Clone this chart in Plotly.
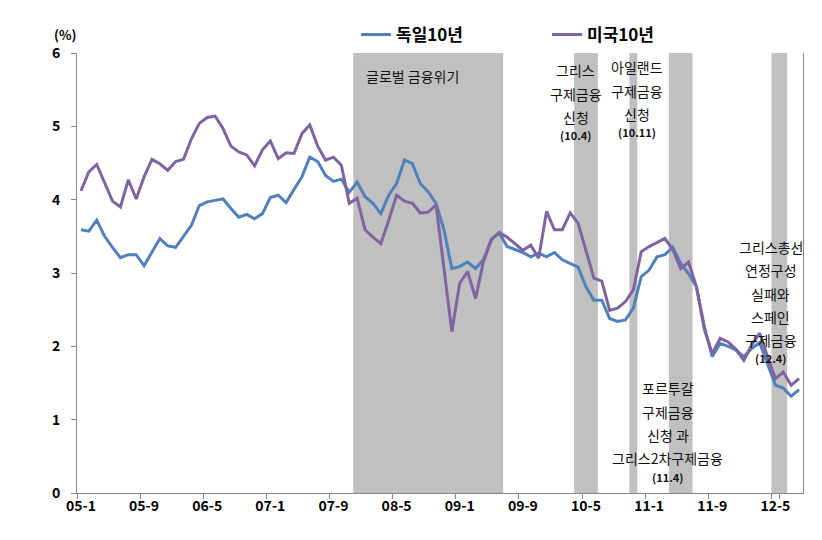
import plotly.graph_objects as go

# ---------------- data ----------------
months = [f"{y:02d}-{m}" for y in range(5, 13) for m in range(1, 13)][:92]  # 05-1 .. 12-8

germany_10y = [3.59, 3.57, 3.72, 3.50, 3.35, 3.21, 3.25, 3.25, 3.10, 3.29,
               3.47, 3.37, 3.35, 3.50, 3.65, 3.92, 3.97, 3.99, 4.01, 3.88,
               3.76, 3.80, 3.74, 3.81, 4.03, 4.06, 3.96, 4.14, 4.31, 4.58,
               4.52, 4.33, 4.25, 4.28, 4.10, 4.24, 4.04, 3.95, 3.81, 4.06,
               4.22, 4.54, 4.49, 4.22, 4.11, 3.95, 3.59, 3.06, 3.09, 3.15,
               3.06, 3.18, 3.45, 3.55, 3.36, 3.32, 3.28, 3.22, 3.27, 3.22,
               3.28, 3.18, 3.13, 3.08, 2.81, 2.63, 2.63, 2.38, 2.34, 2.36,
               2.52, 2.95, 3.04, 3.22, 3.25, 3.35, 3.13, 2.99, 2.81, 2.27,
               1.86, 2.04, 2.00, 1.95, 1.86, 1.97, 2.05, 1.77, 1.47, 1.43,
               1.32, 1.41]

us_10y = [4.12, 4.38, 4.48, 4.22, 3.98, 3.90, 4.27, 4.01, 4.31, 4.55,
          4.49, 4.40, 4.52, 4.55, 4.83, 5.04, 5.12, 5.14, 4.97, 4.73,
          4.65, 4.61, 4.46, 4.68, 4.80, 4.56, 4.64, 4.63, 4.90, 5.02,
          4.73, 4.54, 4.58, 4.47, 3.95, 4.02, 3.59, 3.49, 3.40, 3.72,
          4.06, 3.98, 3.95, 3.82, 3.83, 3.93, 3.07, 2.20, 2.86, 3.02,
          2.65, 3.15, 3.46, 3.55, 3.49, 3.40, 3.31, 3.38, 3.20, 3.84,
          3.59, 3.59, 3.82, 3.68, 3.31, 2.93, 2.89, 2.49, 2.52, 2.61,
          2.77, 3.29, 3.36, 3.41, 3.47, 3.32, 3.06, 3.15, 2.81, 2.23,
          1.90, 2.11, 2.06, 1.96, 1.81, 2.02, 2.18, 1.86, 1.56, 1.65,
          1.47, 1.56]

tick_labels = ["05-1", "05-9", "06-5", "07-1", "07-9", "08-5", "09-1",
               "09-9", "10-5", "11-1", "11-9", "12-5"]

# shaded event periods (first month, last month)
event_periods = [("07-12", "09-6"), ("10-4", "10-6"), ("10-11", "10-11"),
                 ("11-4", "11-6"), ("12-5", "12-6")]

series_names = ["독일10년", "미국10년"]

# ---------------- figure ----------------
BLUE = "#4F81BD"
PURPLE = "#8064A2"
SHADE = "#C0C0C0"
FONT = "Noto Sans CJK KR"

fig = go.Figure()
fig.add_trace(go.Scatter(x=months, y=germany_10y, mode="lines", name=series_names[0],
                         line=dict(color=BLUE, width=3)))
fig.add_trace(go.Scatter(x=months, y=us_10y, mode="lines", name=series_names[1],
                         line=dict(color=PURPLE, width=3)))

for a, b in event_periods:
    fig.add_shape(type="rect", xref="x", yref="y",
                  x0=months.index(a) - 0.5, x1=months.index(b) + 0.5,
                  y0=0, y1=6, fillcolor=SHADE, line=dict(width=0), layer="below")

# plot area in pixels
L, R, T, B = 77, 803.5, 53, 493.3
W, H = 822, 540


def px(x):
    return (x - L) / (R - L)


def py(y):
    return (B - y) / (B - T)


def note(text, x, y, size=14, bold=False):
    fig.add_annotation(text=text, x=px(x), y=py(y), xref="paper", yref="paper",
                       showarrow=False, xanchor="center", yanchor="middle",
                       font=dict(family=FONT, size=size, color="#111111",
                                 weight="bold" if bold else "normal"))


note("글로벌 금융위기", 413, 76)

for t, y in [("그리스", 70), ("구제금융", 94), ("신청", 117)]:
    note(t, 576, y)
note("(10.4)", 576, 135, size=11, bold=True)

for t, y in [("아일랜드", 67), ("구제금융", 91), ("신청", 114)]:
    note(t, 637, y)
note("(10.11)", 637, 132, size=11, bold=True)

for t, y in [("그리스총선", 247), ("연정구성", 270), ("실패와", 294),
             ("스페인", 317), ("구제금융", 340)]:
    note(t, 771, y)
note("(12.4)", 771, 358, size=11, bold=True)

for t, y in [("포르투갈", 388), ("구제금융", 412), ("신청 과", 435),
             ("그리스2차구제금융", 458)]:
    note(t, 668, y)
note("(11.4)", 668, 477, size=11, bold=True)

fig.add_annotation(text="(%)", x=px(65), y=py(34), xref="paper", yref="paper",
                   showarrow=False, xanchor="center", yanchor="middle",
                   font=dict(family=FONT, size=13, color="#000000", weight="bold"))

fig.update_layout(
    width=W, height=H,
    margin=dict(l=L, r=W - R, t=T, b=H - B, autoexpand=False),
    paper_bgcolor="white", plot_bgcolor="white",
    font=dict(family=FONT, color="#000000"),
    showlegend=True,
    legend=dict(orientation="h", x=356 / W, y=1 - 35 / H, xref="container", yref="container",
                xanchor="left", yanchor="middle",
                font=dict(family=FONT, size=17, color="#000000", weight="bold"),
                itemwidth=30, entrywidth=146, entrywidthmode="pixels",
                bgcolor="rgba(0,0,0,0)"),
    xaxis=dict(type="category", range=[-0.5, len(months) - 0.5],
               tickmode="array", tickvals=tick_labels, ticktext=tick_labels,
               tickson="boundaries", ticks="outside", ticklen=5, tickcolor="#868686",
               tickangle=0, automargin=False,
               showline=True, linecolor="#868686", linewidth=1, showgrid=False,
               tickfont=dict(family=FONT, size=14, color="#000000", weight="bold")),
    yaxis=dict(range=[0, 6], tickmode="array", tickvals=[0, 1, 2, 3, 4, 5, 6],
               ticks="outside", ticklen=5, tickcolor="#868686", automargin=False,
               showline=True, linecolor="#868686", linewidth=1, mirror=True,
               showgrid=False, zeroline=False, ticklabelstandoff=8,
               tickfont=dict(family=FONT, size=14, color="#000000", weight="bold")),
)

fig.write_html("out.html", config={"displayModeBar": False},
               post_script="document.body.style.margin='0px';document.body.style.padding='0px';")
